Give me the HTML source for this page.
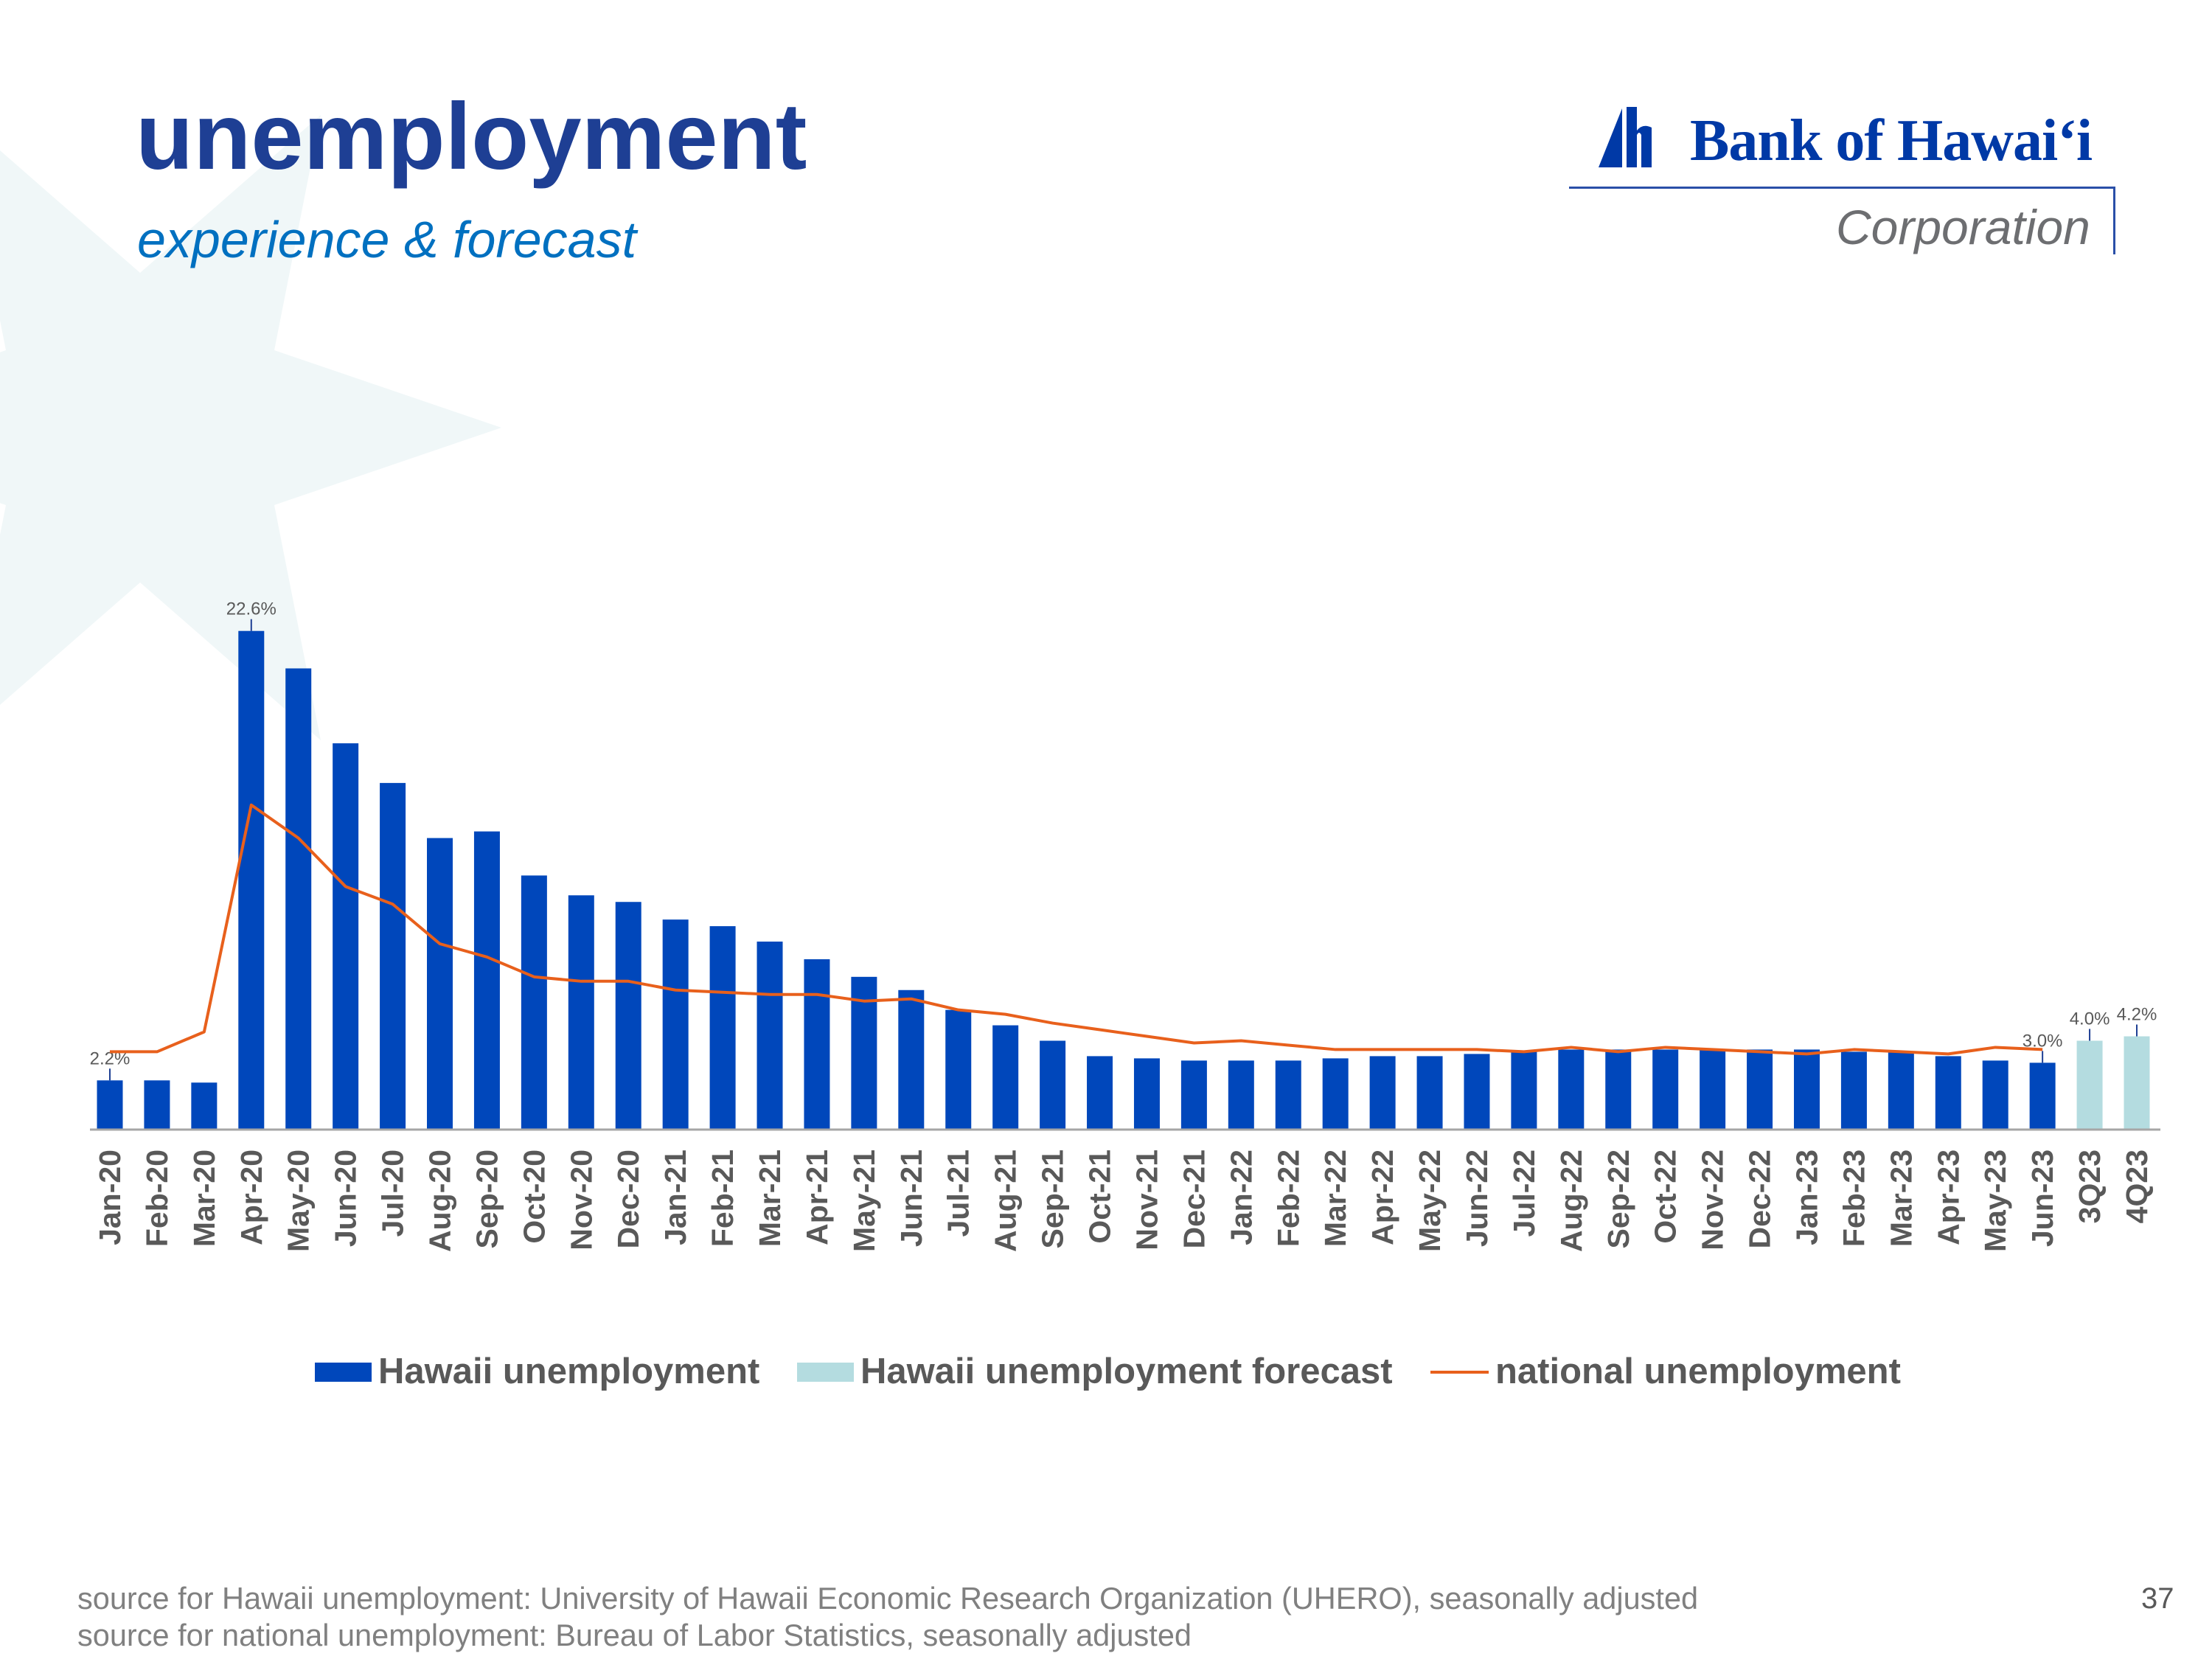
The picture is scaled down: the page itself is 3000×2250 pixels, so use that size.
<!DOCTYPE html>
<html><head><meta charset="utf-8"><style>
html,body{margin:0;padding:0;background:#fff;}
body{width:3000px;height:2250px;position:relative;overflow:hidden;font-family:"Liberation Sans",Arial,sans-serif;}
.abs{position:absolute;white-space:nowrap;}
</style></head><body>
<svg class="abs" style="left:0;top:0" width="3000" height="2250">
<polygon id="star" fill="#f0f7f8" points=""/>
</svg>
<div class="abs" style="left:184px;top:112px;font-size:128px;font-weight:bold;color:#1e3f94;letter-spacing:0px;">unemployment</div>
<div class="abs" style="left:186px;top:285px;font-size:70px;font-style:italic;color:#0070c0;">experience &amp; forecast</div>
<div>
<svg class="abs" style="left:2160px;top:145px" width="80" height="85"><polygon points="8,82 40,2 40,82" fill="#0039a6"/><path d="M46,0 h14 v32 q8,-10 20,-4 v54 h-14 v-44 q-3,-6 -6,0 v44 h-14z" fill="#0039a6"/></svg>
<div class="abs" style="left:2292px;top:146px;font-size:80px;font-weight:bold;color:#0039a6;font-family:'Liberation Serif',serif;letter-spacing:-1px;">Bank of Hawaiʻi</div>
<div class="abs" style="left:2128px;top:253px;width:740px;height:3px;background:#2a4fa8;"></div>
<div class="abs" style="left:2866px;top:253px;width:3px;height:92px;background:#2a4fa8;"></div>
<div class="abs" style="left:2490px;top:270px;font-size:66px;font-style:italic;color:#6d6e71;">Corporation</div>
</div>
<svg id="chart" class="abs" style="left:0;top:0" width="3000" height="2250"></svg>
<div class="abs" style="left:0;top:1830px;width:3000px;height:60px;font-size:49px;font-weight:bold;color:#595959;">
<div class="abs" style="left:427px;top:18px;width:77px;height:26px;background:#0047bb;"></div>
<div class="abs" style="left:513px;top:2px;">Hawaii unemployment</div>
<div class="abs" style="left:1081px;top:18px;width:77px;height:26px;background:#b4dce0;"></div>
<div class="abs" style="left:1167px;top:2px;">Hawaii unemployment forecast</div>
<div class="abs" style="left:1940px;top:29px;width:79px;height:4px;background:#e8601c;"></div>
<div class="abs" style="left:2028px;top:2px;">national unemployment</div>
</div>
<div class="abs" style="left:105px;top:2144px;font-size:41.5px;color:#808080;">source for Hawaii unemployment: University of Hawaii Economic Research Organization (UHERO), seasonally adjusted</div>
<div class="abs" style="left:105px;top:2194px;font-size:41.5px;color:#808080;">source for national unemployment: Bureau of Labor Statistics, seasonally adjusted</div>
<div class="abs" style="left:2904px;top:2146px;font-size:40px;color:#595959;">37</div>
<script>
const categories=["Jan-20","Feb-20","Mar-20","Apr-20","May-20","Jun-20","Jul-20","Aug-20","Sep-20","Oct-20","Nov-20","Dec-20","Jan-21","Feb-21","Mar-21","Apr-21","May-21","Jun-21","Jul-21","Aug-21","Sep-21","Oct-21","Nov-21","Dec-21","Jan-22","Feb-22","Mar-22","Apr-22","May-22","Jun-22","Jul-22","Aug-22","Sep-22","Oct-22","Nov-22","Dec-22","Jan-23","Feb-23","Mar-23","Apr-23","May-23","Jun-23","3Q23","4Q23"];
const hawaii=[2.2,2.2,2.1,22.6,20.9,17.5,15.7,13.2,13.5,11.5,10.6,10.3,9.5,9.2,8.5,7.7,6.9,6.3,5.4,4.7,4.0,3.3,3.2,3.1,3.1,3.1,3.2,3.3,3.3,3.4,3.5,3.6,3.6,3.6,3.6,3.6,3.6,3.5,3.5,3.3,3.1,3.0,null,null];
const forecast=[null,null,null,null,null,null,null,null,null,null,null,null,null,null,null,null,null,null,null,null,null,null,null,null,null,null,null,null,null,null,null,null,null,null,null,null,null,null,null,null,null,null,4.0,4.2];
const national=[3.5,3.5,4.4,14.7,13.2,11.0,10.2,8.4,7.8,6.9,6.7,6.7,6.3,6.2,6.1,6.1,5.8,5.9,5.4,5.2,4.8,4.5,4.2,3.9,4.0,3.8,3.6,3.6,3.6,3.6,3.5,3.7,3.5,3.7,3.6,3.5,3.4,3.6,3.5,3.4,3.7,3.6];
const labelled={0:"2.2%",3:"22.6%",41:"3.0%",42:"4.0%",43:"4.2%"};

(function(){const cx=190,cy=580,R=490,r=210,pts=[];for(let i=0;i<12;i++){const a=i*Math.PI/6;const rr=i%2?r:R;pts.push((cx+rr*Math.cos(a)).toFixed(0)+","+(cy+rr*Math.sin(a)).toFixed(0));}document.getElementById('star').setAttribute('points',pts.join(' '));})();

const NS="http://www.w3.org/2000/svg";
const svg=document.getElementById('chart');
const x0=149,step=63.93,base=1531,pxPer=29.88,bw=35;
const xPos=i=>x0+i*step;
const yPos=v=>base-v*pxPer;
function mk(t,a){const e=document.createElementNS(NS,t);for(const k in a)e.setAttribute(k,a[k]);svg.appendChild(e);return e;}
categories.forEach((c,i)=>{
  const v=hawaii[i]!=null?hawaii[i]:forecast[i];
  const isF=hawaii[i]==null;
  const b=mk('rect',{x:xPos(i)-bw/2,y:yPos(v),width:bw,height:v*pxPer,fill:isF?'#b4dce0':'#0047bb'});
  
  
  const t=mk('text',{x:0,y:0,transform:`translate(${xPos(i)+14},1559) rotate(-90)`,'text-anchor':'end','font-size':41,'font-weight':'bold',fill:'#595959','font-family':'Liberation Sans, sans-serif'});
  t.textContent=c;
  
  
  if(labelled[i]){
    const ty=yPos(v);
    const tk=mk('line',{x1:xPos(i),x2:xPos(i),y1:ty-16,y2:ty,stroke:'#1e3f94','stroke-width':2});
    
    
    const lt=mk('text',{x:xPos(i),y:ty-22,'text-anchor':'middle','font-size':24,fill:'#595959','font-family':'Liberation Sans, sans-serif'});
    lt.textContent=labelled[i];
    
    
  }
});
const ax=mk('line',{x1:122,x2:2930,y1:base+1,y2:base+1,stroke:'#a6a6a6','stroke-width':3});


const ln=mk('polyline',{points:national.map((v,i)=>xPos(i)+','+yPos(v)).join(' '),fill:'none',stroke:'#e8601c','stroke-width':4,'stroke-linejoin':'round'});


</script>
</body></html>
